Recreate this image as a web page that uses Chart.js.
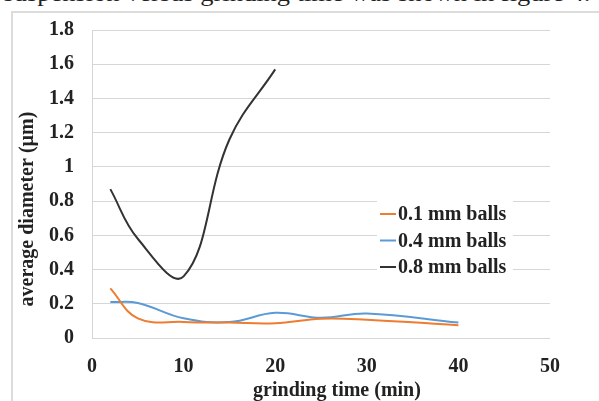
<!DOCTYPE html>
<html>
<head>
<meta charset="utf-8">
<script src="https://cdn.jsdelivr.net/npm/chart.js@4.4.1/dist/chart.umd.min.js"></script>
<style>
    html, body { margin: 0; padding: 0; background: #fff; }
    #wrap { position: relative; width: 599px; height: 401px; overflow: hidden; }
    #caption {
        position: absolute; right: 9px; top: -19px; white-space: nowrap;
        font: 23px 'Liberation Serif', serif; color: #222;
        transform: scaleX(1.15); transform-origin: right top;
    }
    #frame {
        position: absolute; left: 11px; top: 11px; width: 640px; height: 420px;
        border-left: 2px solid #dcdcdc; border-top: 2px solid #dcdcdc;
    }
    canvas { position: absolute; left: 0; top: 0; }
</style>
</head>
<body>
<div id="wrap">
    <div id="caption">suspension versus grinding time was shown in figure 4.</div>
    <div id="frame"></div>
    <canvas id="chart" width="599" height="401"></canvas>
</div>
<script>
// values
const timeShort = [2, 5, 10, 15, 20];
const timeLong = [2, 5, 10, 15, 20, 25, 30, 40];
const balls01 = [0.29, 0.115, 0.094, 0.09, 0.086, 0.113, 0.107, 0.075];
const balls04 = [0.21, 0.205, 0.115, 0.093, 0.147, 0.118, 0.143, 0.09];
const balls08 = [0.87, 0.58, 0.36, 1.16, 1.57];
const seriesLabels = ['0.1 mm balls', '0.4 mm balls', '0.8 mm balls'];
const seriesColors = ['#ed7d31', '#5b9bd5', '#333333'];
const xTitle = 'grinding time (min)';
const yTitle = 'average diameter (\u00b5m)';

const boldFont = "bold 20px 'Liberation Serif', serif";

function points(xs, ys) {
    return xs.map((x, i) => ({ x: x, y: ys[i] }));
}

const titlesAndLegend = {
    id: 'titlesAndLegend',
    afterDraw(chart) {
        const ctx = chart.ctx;
        const area = chart.chartArea;
        ctx.save();
        ctx.font = boldFont;
        ctx.fillStyle = '#222';
        ctx.textAlign = 'center';
        ctx.textBaseline = 'middle';
        // axis titles
        ctx.fillText(xTitle, area.left + area.width / 2 + 16, 391);
        ctx.translate(28, area.top + area.height / 2 + 25);
        ctx.rotate(-Math.PI / 2);
        ctx.fillText(yTitle, 0, 0);
        ctx.restore();

        // legend box inside the plot
        ctx.save();
        ctx.fillStyle = '#fff';
        ctx.fillRect(377, 201, 136, 77);
        ctx.font = boldFont;
        ctx.textBaseline = 'middle';
        ctx.textAlign = 'left';
        seriesLabels.forEach((label, i) => {
            const y = 214 + i * 26.5;
            ctx.strokeStyle = seriesColors[i];
            ctx.lineWidth = 2;
            ctx.beginPath();
            ctx.moveTo(380, y);
            ctx.lineTo(396, y);
            ctx.stroke();
            ctx.fillStyle = '#222';
            ctx.fillText(label, 398, y + 1);
        });
        ctx.restore();
    }
};

new Chart(document.getElementById('chart'), {
    type: 'line',
    data: {
        datasets: [
            { label: seriesLabels[0], data: points(timeLong, balls01), borderColor: seriesColors[0] },
            { label: seriesLabels[1], data: points(timeLong, balls04), borderColor: seriesColors[1] },
            { label: seriesLabels[2], data: points(timeShort, balls08), borderColor: seriesColors[2] }
        ]
    },
    options: {
        responsive: false,
        devicePixelRatio: 1,
        animation: false,
        layout: { padding: { top: 23, right: 49, left: 0, bottom: 0 } },
        elements: {
            line: { borderWidth: 2, tension: 0.4, fill: false },
            point: { radius: 0 }
        },
        plugins: {
            legend: { display: false },
            tooltip: { enabled: false }
        },
        scales: {
            x: {
                type: 'linear',
                min: 0,
                max: 50,
                afterFit: function(scale) { scale.height = 63; },
                ticks: {
                    stepSize: 10,
                    padding: 17,
                    color: '#222',
                    font: { family: "'Liberation Serif', serif", size: 20, weight: 'bold' }
                },
                grid: { display: false, drawTicks: false },
                border: { display: false }
            },
            y: {
                min: 0,
                max: 1.8,
                afterFit: function(scale) { scale.width = 92; },
                ticks: {
                    stepSize: 0.2,
                    padding: 18,
                    color: '#222',
                    font: { family: "'Liberation Serif', serif", size: 20, weight: 'bold' },
                    callback: function(value) {
                        return String(Number(value.toFixed(1)));
                    }
                },
                grid: { color: '#d6d6d6', lineWidth: 1, drawTicks: false },
                border: { display: true, color: '#d6d6d6', width: 1 }
            }
        }
    },
    plugins: [titlesAndLegend]
});
</script>
</body>
</html>
